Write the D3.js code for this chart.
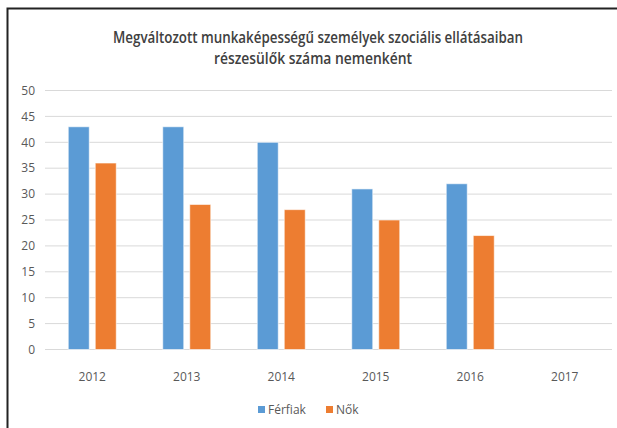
<!DOCTYPE html>
<html>
<head>
<meta charset="utf-8">
<script src="https://cdn.jsdelivr.net/npm/d3@7"></script>
<style>
  body { margin: 0; background: #fff; }
  text { font-family: "Open Sans", sans-serif; }
</style>
</head>
<body>
<svg width="617" height="428"></svg>
<script>
var years = ["2012", "2013", "2014", "2015", "2016", "2017"];
var series = ["Férfiak", "Nők"];
var ferfiak = [43, 43, 40, 31, 32, null];
var nok = [36, 28, 27, 25, 22, null];
var yTicks = [0, 5, 10, 15, 20, 25, 30, 35, 40, 45, 50];
var colors = ["#5b9bd5", "#ed7d31"];

var svg = d3.select("svg"),
  width = +svg.attr("width"),
  height = +svg.attr("height");

// frame (only left and top edge visible)
svg.append("rect")
  .attr("x", 7.5).attr("y", 8.5)
  .attr("width", 640).attr("height", 440)
  .attr("fill", "none")
  .attr("stroke", "#222")
  .attr("stroke-width", 2);

var x0 = d3.scaleBand().domain(years).range([45, 612]);
var x1 = d3.scaleBand().domain(series).range([-24, 24]).paddingInner(6 / 27);
var y = d3.scaleLinear().domain([0, 50]).range([349.5, 90.5]);

// title, squeezed to the narrow width of the original font
var title = svg.append("text")
  .attr("text-anchor", "middle")
  .attr("fill", "#404040")
  .style("font-size", "16px")
  .style("font-weight", "600");
title.append("tspan").attr("x", 318).attr("y", 43)
  .attr("textLength", 410).attr("lengthAdjust", "spacingAndGlyphs")
  .text("Megváltozott munkaképességű személyek szociális ellátásaiban");
title.append("tspan").attr("x", 313).attr("y", 64)
  .attr("textLength", 198).attr("lengthAdjust", "spacingAndGlyphs")
  .text("részesülők száma nemenként");

// gridlines
svg.append("g")
  .selectAll("line")
  .data(yTicks)
  .enter().append("line")
  .attr("x1", 45).attr("x2", 612)
  .attr("y1", function(d) { return y(d); })
  .attr("y2", function(d) { return y(d); })
  .attr("stroke", "#d9d9d9")
  .attr("stroke-width", 1);

// y labels
svg.append("g")
  .selectAll("text")
  .data(yTicks)
  .enter().append("text")
  .attr("x", 35)
  .attr("y", function(d) { return y(d); })
  .attr("dy", "0.35em")
  .attr("text-anchor", "end")
  .attr("fill", "#595959")
  .style("font-size", "12px")
  .text(function(d) { return d; });

// bars
var rows = years.map(function(yr, i) {
  return { year: yr, values: [ferfiak[i], nok[i]] };
});

var group = svg.append("g")
  .selectAll("g")
  .data(rows)
  .enter().append("g")
  .attr("transform", function(d) {
    return "translate(" + (x0(d.year) + x0.bandwidth() / 2) + ",0)";
  });

group.selectAll("rect")
  .data(function(d) {
    return d.values.map(function(v, j) { return { s: series[j], v: v, c: colors[j] }; })
      .filter(function(e) { return e.v != null; });
  })
  .enter().append("rect")
  .attr("x", function(d) { return x1(d.s); })
  .attr("width", x1.bandwidth())
  .attr("y", function(d) { return y(d.v); })
  .attr("height", function(d) { return y(0) - y(d.v); })
  .attr("fill", function(d) { return d.c; })
  .attr("stroke", "#fff")
  .attr("stroke-opacity", 0.6)
  .attr("stroke-width", 1);

// x labels
svg.append("g")
  .selectAll("text")
  .data(years)
  .enter().append("text")
  .attr("x", function(d) { return x0(d) + x0.bandwidth() / 2; })
  .attr("y", 381)
  .attr("text-anchor", "middle")
  .attr("fill", "#595959")
  .style("font-size", "12px")
  .text(function(d) { return d; });

// legend
var legendX = [258, 326];
var legend = svg.append("g")
  .selectAll("g")
  .data(series)
  .enter().append("g")
  .attr("transform", function(d, i) { return "translate(" + legendX[i] + ",410)"; });

legend.append("rect")
  .attr("x", 0).attr("y", -4)
  .attr("width", 7).attr("height", 7)
  .attr("fill", function(d, i) { return colors[i]; });

legend.append("text")
  .attr("x", 10)
  .attr("y", 0)
  .attr("dy", "0.35em")
  .attr("fill", "#595959")
  .style("font-size", "12px")
  .text(function(d) { return d; });
</script>
</body>
</html>
